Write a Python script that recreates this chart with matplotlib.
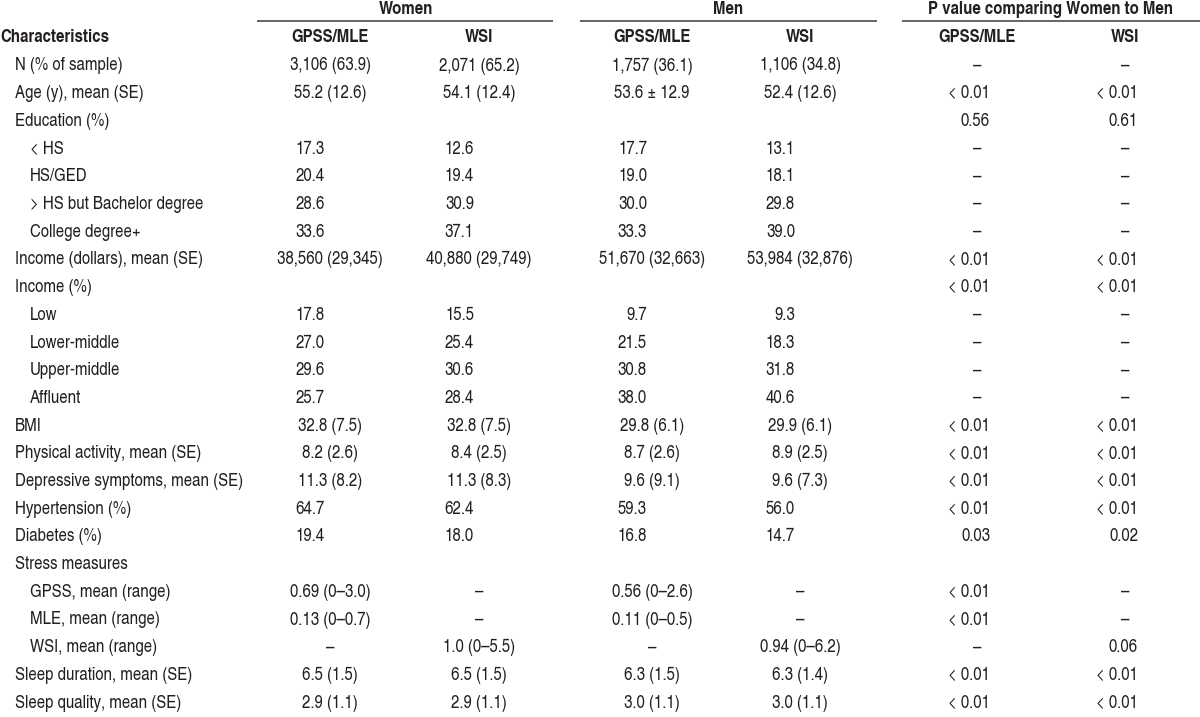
"""Baseline characteristics table, women vs men, GPSS/MLE and WSI samples."""

import matplotlib

matplotlib.use("Agg")
import matplotlib.pyplot as plt

plt.rcParams["font.family"] = ["TeX Gyre Heros Cn", "Liberation Sans", "DejaVu Sans"]

# Row labels and indent level (0 = top level, 1 = sub item).
labels = [
    "N (% of sample)", "Age (y), mean (SE)", "Education (%)", "< HS", "HS/GED",
    "> HS but Bachelor degree", "College degree+", "Income (dollars), mean (SE)",
    "Income (%)", "Low", "Lower-middle", "Upper-middle", "Affluent", "BMI",
    "Physical activity, mean (SE)", "Depressive symptoms, mean (SE)",
    "Hypertension (%)", "Diabetes (%)", "Stress measures", "GPSS, mean (range)",
    "MLE, mean (range)", "WSI, mean (range)", "Sleep duration, mean (SE)",
    "Sleep quality, mean (SE)",
]
levels = [0, 0, 0, 1, 1, 1, 1, 0, 0, 1, 1, 1, 1, 0, 0, 0, 0, 0, 0, 1, 1, 1, 0, 0]

women_gpss = [
    "3,106 (63.9)", "55.2 (12.6)", "", "17.3", "20.4", "28.6", "33.6",
    "38,560 (29,345)", "", "17.8", "27.0", "29.6", "25.7", "32.8 (7.5)",
    "8.2 (2.6)", "11.3 (8.2)", "64.7", "19.4", "", "0.69 (0\u20133.0)",
    "0.13 (0\u20130.7)", "\u2013", "6.5 (1.5)", "2.9 (1.1)",
]
women_wsi = [
    "2,071 (65.2)", "54.1 (12.4)", "", "12.6", "19.4", "30.9", "37.1",
    "40,880 (29,749)", "", "15.5", "25.4", "30.6", "28.4", "32.8 (7.5)",
    "8.4 (2.5)", "11.3 (8.3)", "62.4", "18.0", "", "\u2013", "\u2013",
    "1.0 (0\u20135.5)", "6.5 (1.5)", "2.9 (1.1)",
]
men_gpss = [
    "1,757 (36.1)", "53.6 \u00b1 12.9", "", "17.7", "19.0", "30.0", "33.3",
    "51,670 (32,663)", "", "9.7", "21.5", "30.8", "38.0", "29.8 (6.1)",
    "8.7 (2.6)", "9.6 (9.1)", "59.3", "16.8", "", "0.56 (0\u20132.6)",
    "0.11 (0\u20130.5)", "\u2013", "6.3 (1.5)", "3.0 (1.1)",
]
men_wsi = [
    "1,106 (34.8)", "52.4 (12.6)", "", "13.1", "18.1", "29.8", "39.0",
    "53,984 (32,876)", "", "9.3", "18.3", "31.8", "40.6", "29.9 (6.1)",
    "8.9 (2.5)", "9.6 (7.3)", "56.0", "14.7", "", "\u2013", "\u2013",
    "0.94 (0\u20136.2)", "6.3 (1.4)", "3.0 (1.1)",
]
p_gpss = [
    "\u2013", "< 0.01", "0.56", "\u2013", "\u2013", "\u2013", "\u2013", "< 0.01",
    "< 0.01", "\u2013", "\u2013", "\u2013", "\u2013", "< 0.01", "< 0.01", "< 0.01",
    "< 0.01", "0.03", "", "< 0.01", "< 0.01", "\u2013", "< 0.01", "< 0.01",
]
p_wsi = [
    "\u2013", "< 0.01", "0.61", "\u2013", "\u2013", "\u2013", "\u2013", "< 0.01",
    "< 0.01", "\u2013", "\u2013", "\u2013", "\u2013", "< 0.01", "< 0.01", "< 0.01",
    "< 0.01", "0.02", "", "\u2013", "\u2013", "0.06", "< 0.01", "< 0.01",
]

groups = ["Women", "Men", "P value comparing Women to Men"]
subheads = ["GPSS/MLE", "WSI"]

INK = "#231f20"
FS = 13.2

# Layout in pixel units of the 1200x717 canvas.
row_y0, row_dy = 66, 27.7
indent = [15, 30]
group_spans = [(257, 553), (580, 877), (902, 1200)]
group_centers = [406, 728, 1051]
value_cols = [  # (center, right anchor for bare percentages)
    (330, 325), (479, 474), (652, 647), (800, 795),
]
p_cols = [(977, 990), (1125, 1138)]  # (dash center, right anchor)

fig = plt.figure(figsize=(12, 7.17), dpi=100)
ax = fig.add_axes([0, 0, 1, 1])
ax.set_xlim(0, 1200)
ax.set_ylim(717, 0)
ax.axis("off")

# Header block.
for name, (x0, x1), xc in zip(groups, group_spans, group_centers):
    ax.text(xc, 9, name, ha="center", va="center", fontsize=FS,
            fontweight="bold", color=INK)
    ax.plot([x0, x1], [21, 21], color="#3a3a3a", lw=1.1, solid_capstyle="butt")
ax.text(0, 37, "Characteristics", ha="left", va="center", fontsize=FS,
        fontweight="bold", color=INK)
head_x = [c for c, _ in value_cols] + [c for c, _ in p_cols]
for i, xc in enumerate(head_x):
    ax.text(xc, 37, subheads[i % 2], ha="center", va="center", fontsize=FS,
            fontweight="bold", color=INK)

# Body rows.
columns = [women_gpss, women_wsi, men_gpss, men_wsi]
for i, (lab, lev) in enumerate(zip(labels, levels)):
    y = row_y0 + i * row_dy
    ax.text(indent[lev], y, lab, ha="left", va="center", fontsize=FS, color=INK)
    for col, (xc, xr) in zip(columns, value_cols):
        v = col[i]
        if not v:
            continue
        if " " in v or v == "\u2013":
            ax.text(xc, y, v, ha="center", va="center", fontsize=FS, color=INK)
        else:
            ax.text(xr, y, v, ha="right", va="center", fontsize=FS, color=INK)
    for col, (xc, xr) in zip([p_gpss, p_wsi], p_cols):
        v = col[i]
        if not v:
            continue
        if v == "\u2013":
            ax.text(xc, y, v, ha="center", va="center", fontsize=FS, color=INK)
        else:
            ax.text(xr, y, v, ha="right", va="center", fontsize=FS, color=INK)

fig.savefig("out.png", dpi=100)
